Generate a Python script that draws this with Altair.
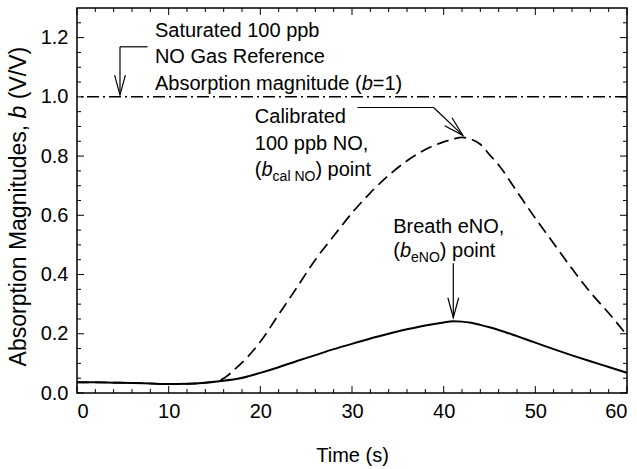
import altair as alt
import pandas as pd

# ---------------- data ----------------
time_s = [0, 2, 4, 6, 8, 10, 12, 14, 15.5, 17.5, 20, 22, 24, 26, 28, 30, 32, 34,
          36, 38, 40, 41, 42, 43, 44, 45, 46, 48, 50, 52, 54, 56, 58, 60]
breath_eno = [0.036, 0.036, 0.035, 0.034, 0.032, 0.030, 0.031, 0.035, 0.040, 0.048,
              0.068, 0.087, 0.108, 0.128, 0.148, 0.166, 0.184, 0.200, 0.215, 0.228,
              0.238, 0.242, 0.241, 0.237, 0.230, 0.222, 0.213, 0.192, 0.170, 0.148,
              0.127, 0.107, 0.088, 0.068]
calibrated_no = [0.036, 0.036, 0.035, 0.034, 0.032, 0.030, 0.031, 0.035, 0.042, 0.088,
                 0.173, 0.265, 0.357, 0.450, 0.530, 0.608, 0.676, 0.735, 0.784, 0.822,
                 0.848, 0.857, 0.863, 0.857, 0.840, 0.805, 0.770, 0.680, 0.590, 0.505,
                 0.420, 0.340, 0.270, 0.195]
reference_b = [1.0]

x_major = [0, 10, 20, 30, 40, 50, 60]
x_minor = [2, 4, 6, 8, 12, 14, 16, 18, 22, 24, 26, 28, 32, 34, 36, 38,
           42, 44, 46, 48, 52, 54, 56, 58]
y_major = [0.0, 0.2, 0.4, 0.6, 0.8, 1.0, 1.2]
y_minor = [0.05, 0.1, 0.15, 0.25, 0.3, 0.35, 0.45, 0.5, 0.55, 0.65, 0.7, 0.75,
           0.85, 0.9, 0.95, 1.05, 1.1, 1.15, 1.25]

# ---------------- style ----------------
FONT = "Liberation Sans"
W, H = 550, 385
F_ANN = 20
F_SUB = 14
F_TICK = 20
F_TITLE = 20
F_YTITLE = 23
LMAJ, LMIN = 7, 4

XS = alt.Scale(domain=[0, 60], nice=False, zero=False)
YS = alt.Scale(domain=[0, 1.3], nice=False, zero=False)

ARIAL = {' ': 278, '(': 333, ')': 333, '=': 584, '1': 556, '0': 556, 'A': 667,
         'N': 722, 'O': 778, 'a': 556, 'b': 556, 'c': 500, 'd': 556, 'e': 556,
         'g': 556, 'i': 222, 'l': 222, 'm': 833, 'n': 556, 'o': 556, 'p': 556,
         'r': 333, 's': 500, 't': 278, 'u': 556, 'M': 833, 'V': 667, '/': 278,
         ',': 278, 'G': 778, 'R': 722, 'f': 278, 'h': 556, 'B': 667, 'S': 667}


def width(s, size):
    return sum(ARIAL.get(ch, 556) for ch in s) * size / 1000.0


one = alt.Data(values=[{}])


def text_line(t, b, pieces):
    """pieces: list of (text, size, style, dy)"""
    layers = []
    dx = 0.0
    for s, size, style, dy in pieces:
        layers.append(
            alt.Chart(one).mark_text(
                text=s, font=FONT, fontSize=size, fontStyle=style, align="left",
                baseline="alphabetic", dx=dx, dy=dy, color="black"
            ).encode(x=alt.datum(t, scale=XS), y=alt.datum(b, scale=YS))
        )
        dx += width(s, size)
    return layers


def seg(t1, b1, t2, b2, sw=1.2):
    return alt.Chart(one).mark_rule(color="black", strokeWidth=sw).encode(
        x=alt.datum(t1), y=alt.datum(b1), x2=alt.datum(t2), y2=alt.datum(b2))


VPATH = "M -0.27 -1 L 0 0 L 0.27 -1"


def head(t, b, angle=0, size=1600):
    return alt.Chart(one).mark_point(
        shape=VPATH, filled=False, size=size, angle=angle, strokeWidth=1.2,
        opacity=1, color="black").encode(x=alt.datum(t), y=alt.datum(b))


# ---------------- curves ----------------
df = pd.DataFrame({"t": time_s, "breath": breath_eno, "cal": calibrated_no})

base = alt.Chart(df)
x_enc = alt.X("t:Q", scale=XS,
              axis=alt.Axis(values=x_major, title="Time (s)", format="d",
                            labelFont=FONT, labelFontSize=F_TICK, labelColor="black",
                            labelPadding=8, titleFont=FONT, titleFontSize=F_TITLE,
                            titleFontWeight="normal", titleColor="black",
                            titlePadding=24, ticks=False, domain=False, grid=False))
y_axis = alt.Axis(values=y_major, title=None, format=".1f", labelFont=FONT,
                  labelFontSize=F_TICK, labelColor="black", labelPadding=9,
                  ticks=False, domain=False, grid=False)

cal_line = base.mark_line(color="black", strokeWidth=1.7, strokeDash=[12, 6],
                          interpolate="monotone").encode(
    x=x_enc, y=alt.Y("cal:Q", scale=YS, axis=y_axis))
breath_line = base.mark_line(color="black", strokeWidth=2,
                             interpolate="monotone").encode(
    x=alt.X("t:Q", scale=XS), y=alt.Y("breath:Q", scale=YS))

ref_line = alt.Chart(pd.DataFrame({"b": reference_b})).mark_rule(
    color="black", strokeWidth=1.5, strokeDash=[12, 4, 2, 4]).encode(
    y=alt.Y("b:Q", scale=YS))

# ---------------- inward ticks on all four sides ----------------
tick_layers = []
for vals, ln in ((x_major, LMAJ), (x_minor, LMIN)):
    d = pd.DataFrame({"t": vals})
    tick_layers.append(alt.Chart(d).mark_rule(color="black", strokeWidth=1).encode(
        x=alt.X("t:Q", scale=XS), y=alt.value(H), y2=alt.value(H - ln)))
    tick_layers.append(alt.Chart(d).mark_rule(color="black", strokeWidth=1).encode(
        x=alt.X("t:Q", scale=XS), y=alt.value(0), y2=alt.value(ln)))
for vals, ln in ((y_major, LMAJ), (y_minor, LMIN)):
    d = pd.DataFrame({"b": vals})
    tick_layers.append(alt.Chart(d).mark_rule(color="black", strokeWidth=1).encode(
        y=alt.Y("b:Q", scale=YS), x=alt.value(0), x2=alt.value(ln)))
    tick_layers.append(alt.Chart(d).mark_rule(color="black", strokeWidth=1).encode(
        y=alt.Y("b:Q", scale=YS), x=alt.value(W), x2=alt.value(W - ln)))

# ---------------- y-axis title with italic b ----------------
YT_X = -58
YB = 104
gap = width("b", F_YTITLE) / 2 + width(" ", F_YTITLE)
ytitle = [
    alt.Chart(one).mark_text(text="Absorption Magnitudes,", font=FONT, fontSize=F_YTITLE,
                             angle=270, align="right", baseline="middle", color="black"
                             ).encode(x=alt.value(YT_X), y=alt.value(YB + gap)),
    alt.Chart(one).mark_text(text="b", font=FONT, fontSize=F_YTITLE, fontStyle="italic",
                             angle=270, align="center", baseline="middle", color="black"
                             ).encode(x=alt.value(YT_X), y=alt.value(YB)),
    alt.Chart(one).mark_text(text="(V/V)", font=FONT, fontSize=F_YTITLE,
                             angle=270, align="left", baseline="middle", color="black"
                             ).encode(x=alt.value(YT_X), y=alt.value(YB - gap)),
]

# ---------------- annotations ----------------
N, I = "normal", "italic"
ann = []
# saturated reference
ann += text_line(8.5, 1.203, [("Saturated 100 ppb", F_ANN, N, 0)])
ann += text_line(8.5, 1.113, [("NO Gas Reference", F_ANN, N, 0)])
ann += text_line(8.5, 1.023, [("Absorption magnitude (", F_ANN, N, 0),
                              ("b", F_ANN, I, 0), ("=1)", F_ANN, N, 0)])
ann += [seg(7.7, 1.169, 4.69, 1.169), seg(4.69, 1.169, 4.69, 1.006),
        head(4.69, 1.006, 0)]
# calibrated
ann += text_line(19.4, 0.911, [("Calibrated", F_ANN, N, 0)])
ann += text_line(19.4, 0.822, [("100 ppb NO,", F_ANN, N, 0)])
ann += text_line(19.4, 0.733, [("(", F_ANN, N, 0), ("b", F_ANN, I, 0),
                               ("cal NO", F_SUB, N, 5), (") point", F_ANN, N, 0)])
ann += [seg(30.6, 0.964, 38.9, 0.964), seg(38.9, 0.964, 42.1, 0.870),
        head(42.1, 0.870, 313)]
# breath
ann += text_line(34.5, 0.541, [("Breath eNO,", F_ANN, N, 0)])
ann += text_line(34.5, 0.459, [("(", F_ANN, N, 0), ("b", F_ANN, I, 0),
                               ("eNO", F_SUB, N, 5), (") point", F_ANN, N, 0)])
ann += [seg(41.05, 0.438, 41.05, 0.254), head(41.05, 0.254, 0)]

chart = alt.layer(cal_line, breath_line, ref_line, *tick_layers, *ytitle, *ann).properties(
    width=W, height=H,
    autosize=alt.AutoSizeParams(type="none"),
    padding={"left": 77, "top": 8, "right": 10, "bottom": 76},
    background="white",
).configure_view(stroke="black", strokeWidth=1.5).configure_axis(grid=False)

chart.save("out.html", embed_options={"renderer": "svg", "actions": False})
